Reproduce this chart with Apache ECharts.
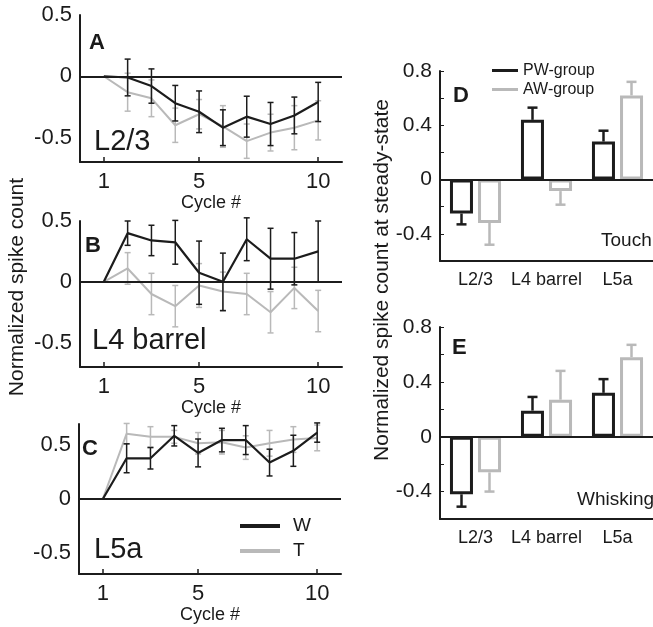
<!DOCTYPE html>
<html>
<head>
<meta charset="utf-8">
<script src="https://cdn.jsdelivr.net/npm/echarts@6/dist/echarts.min.js"></script>
<style>
  html, body { margin: 0; padding: 0; background: #fff; }
  #chart { width: 653px; height: 627px; }
</style>
</head>
<body>
<div id="chart"></div>
<script>
// cycles (x axis of panels A-C)
const cycles = [1, 2, 3, 4, 5, 6, 7, 8, 9, 10];
const cycleTicks = [1, 5, 10];
const lineTicks = [-0.5, 0, 0.5];

// A: L2/3
const aW = [0, -0.01, -0.08, -0.22, -0.29, -0.42, -0.33, -0.39, -0.32, -0.21];
const aWerr = [0, 0.15, 0.14, 0.145, 0.17, 0.146, 0.167, 0.176, 0.15, 0.16];
const aT = [0, -0.13, -0.18, -0.40, -0.31, -0.41, -0.53, -0.46, -0.42, -0.36];
const aTerr = [0, 0.155, 0.15, 0.14, 0.12, 0.17, 0.14, 0.15, 0.18, 0.16];

// B: L4 barrel
const bW = [0, 0.40, 0.34, 0.325, 0.075, 0, 0.35, 0.19, 0.19, 0.25];
const bWerr = [0, 0.1, 0.125, 0.18, 0.26, 0.236, 0.176, 0.25, 0.215, 0.25];
const bT = [0, 0.11, -0.10, -0.20, -0.03, -0.08, -0.10, -0.25, -0.05, -0.24];
const bTerr = [0, 0.13, 0.17, 0.17, 0.18, 0.16, 0.17, 0.17, 0.17, 0.17];

// C: L5a
const cW = [0, 0.38, 0.38, 0.59, 0.43, 0.55, 0.55, 0.34, 0.45, 0.62];
const cWerr = [0, 0.135, 0.10, 0.095, 0.13, 0.11, 0.135, 0.125, 0.145, 0.09];
const cT = [0, 0.61, 0.58, 0.58, 0.52, 0.53, 0.48, 0.52, 0.555, 0.57];
const cTerr = [0, 0.095, 0.095, 0.06, 0.1, 0.11, 0.11, 0.12, 0.12, 0.12];

// D / E: steady-state bars
const layers = ['L2/3', 'L4 barrel', 'L5a'];
const barLabelTicks = [-0.4, 0, 0.4, 0.8];
const barTicks = [-0.6, -0.4, -0.2, 0, 0.2, 0.4, 0.6, 0.8];
const touchPW = [-0.25, 0.44, 0.28];
const touchPWerr = [0.08, 0.09, 0.08];
const touchAW = [-0.32, -0.085, 0.62];
const touchAWerr = [0.16, 0.1, 0.1];
const whiskPW = [-0.42, 0.19, 0.32];
const whiskPWerr = [0.09, 0.1, 0.1];
const whiskAW = [-0.26, 0.27, 0.58];
const whiskAWerr = [0.14, 0.21, 0.09];

const BLACK = '#1c1c1c';
const GRAY = '#b9b9b9';
const FONT = '"Liberation Sans", Arial, sans-serif';

const zeroLine = {
  silent: true,
  symbol: 'none',
  label: { show: false },
  lineStyle: { color: BLACK, width: 1.8, type: 'solid' },
  data: [{ yAxis: 0 }]
};

// two-sided error bars for the cycle panels
function errBars(color, cap, width) {
  return function (params, api) {
    const x = api.value(0), y = api.value(1), e = api.value(2);
    if (!e) return null;
    const t = api.coord([x, y + e]);
    const b = api.coord([x, y - e]);
    const s = { stroke: color, lineWidth: width };
    return {
      type: 'group',
      children: [
        { type: 'line', shape: { x1: t[0], y1: t[1], x2: b[0], y2: b[1] }, style: s },
        { type: 'line', shape: { x1: t[0] - cap, y1: t[1], x2: t[0] + cap, y2: t[1] }, style: s },
        { type: 'line', shape: { x1: b[0] - cap, y1: b[1], x2: b[0] + cap, y2: b[1] }, style: s }
      ]
    };
  };
}

// one-sided error bars for the bar panels
function barErr(color, shift) {
  return function (params, api) {
    const i = api.value(0), v = api.value(1), e = api.value(2);
    const p = api.coord([i, v]);
    const q = api.coord([i, v + (v < 0 ? -e : e)]);
    const x = p[0] + shift;
    const s = { stroke: color, lineWidth: 2.5 };
    return {
      type: 'group',
      children: [
        { type: 'line', shape: { x1: x, y1: p[1], x2: x, y2: q[1] }, style: s },
        { type: 'line', shape: { x1: x - 5, y1: q[1], x2: x + 5, y2: q[1] }, style: s }
      ]
    };
  };
}

function zip(vals, errs) {
  return cycles.map((c, i) => [c, vals[i], errs[i]]);
}

function cycleSeries(idx, w, wErr, t, tErr) {
  return [
    { type: 'custom', xAxisIndex: idx, yAxisIndex: idx, renderItem: errBars(GRAY, 3, 1.5), data: zip(t, tErr), z: 2 },
    { type: 'line', name: 'T', xAxisIndex: idx, yAxisIndex: idx, data: cycles.map((c, i) => [c, t[i]]),
      symbol: 'none', lineStyle: { color: GRAY, width: 2 }, itemStyle: { color: GRAY }, z: 3 },
    { type: 'custom', xAxisIndex: idx, yAxisIndex: idx, renderItem: errBars(BLACK, 3, 1.5), data: zip(w, wErr), z: 4 },
    { type: 'line', name: 'W', xAxisIndex: idx, yAxisIndex: idx, data: cycles.map((c, i) => [c, w[i]]),
      symbol: 'none', lineStyle: { color: BLACK, width: 2.2 }, itemStyle: { color: BLACK }, z: 5, markLine: zeroLine }
  ];
}

function barSeries(idx, pw, pwErr, aw, awErr) {
  return [
    { type: 'custom', xAxisIndex: idx, yAxisIndex: idx, renderItem: barErr(BLACK, -14),
      data: pw.map((v, i) => [i, v, pwErr[i]]), z: 2 },
    { type: 'custom', xAxisIndex: idx, yAxisIndex: idx, renderItem: barErr(GRAY, 14),
      data: aw.map((v, i) => [i, v, awErr[i]]), z: 2 },
    { type: 'bar', name: 'PW-group', xAxisIndex: idx, yAxisIndex: idx, data: pw, barWidth: 23, barGap: '22%',
      itemStyle: { color: '#fff', borderColor: BLACK, borderWidth: 3 }, z: 3, markLine: zeroLine },
    { type: 'bar', name: 'AW-group', xAxisIndex: idx, yAxisIndex: idx, data: aw, barWidth: 23, barGap: '22%',
      itemStyle: { color: '#fff', borderColor: GRAY, borderWidth: 3 }, z: 3 }
  ];
}

const grids = [
  { left: 80, top: 15, width: 262, height: 147 },
  { left: 80, top: 221, width: 262, height: 146 },
  { left: 79, top: 424, width: 262, height: 150 },
  { left: 440, top: 71, width: 216, height: 190 },
  { left: 440, top: 327, width: 216, height: 192 }
];
const yRanges = [[-0.7, 0.5], [-0.7, 0.5], [-0.7, 0.7]];

const axisLine = { onZero: false, lineStyle: { color: BLACK, width: 2 } };

const xAxes = [0, 1, 2].map(i => ({
  type: 'value', gridIndex: i, min: 0, max: 11,
  axisLine: axisLine,
  splitLine: { show: false },
  axisTick: { inside: true, length: 5, customValues: cycleTicks, lineStyle: { color: BLACK, width: 1.5 } },
  axisLabel: { customValues: cycleTicks, margin: 9, color: '#1a1a1a', fontSize: 22, fontFamily: FONT },
  name: 'Cycle #', nameLocation: 'middle', nameGap: 31,
  nameTextStyle: { color: '#1a1a1a', fontSize: 18, fontFamily: FONT }
})).concat([3, 4].map(i => ({
  type: 'category', gridIndex: i, data: layers,
  axisLine: axisLine,
  axisTick: { inside: true, length: 5, alignWithLabel: true, lineStyle: { color: BLACK, width: 1.5 } },
  axisLabel: { interval: 0, margin: 10, color: '#1a1a1a', fontSize: 18, fontFamily: FONT }
})));

const yAxes = [0, 1, 2].map(i => ({
  type: 'value', gridIndex: i, min: yRanges[i][0], max: yRanges[i][1],
  axisLine: { show: true, onZero: false, lineStyle: { color: BLACK, width: 2 } },
  splitLine: { show: false },
  axisTick: { show: false },
  axisLabel: { customValues: lineTicks, margin: 8, color: '#1a1a1a', fontSize: 22, fontFamily: FONT }
})).concat([3, 4].map(i => ({
  type: 'value', gridIndex: i, min: -0.6, max: 0.8,
  axisLine: { show: true, onZero: false, lineStyle: { color: BLACK, width: 2 } },
  splitLine: { show: false },
  axisTick: { show: true, inside: true, length: 4, customValues: barTicks, lineStyle: { color: BLACK, width: 1 } },
  axisLabel: { customValues: barLabelTicks, margin: 8, color: '#1a1a1a', fontSize: 21, fontFamily: FONT }
})));

function txt(text, x, y, size, extra) {
  return Object.assign({
    type: 'text', x: x, y: y, z: 10,
    style: Object.assign({ text: text, fill: '#1a1a1a', font: size + 'px ' + FONT,
      textAlign: 'left', textVerticalAlign: 'middle' }, (extra && extra.style) || {})
  }, extra && extra.rotation !== undefined ? { rotation: extra.rotation } : {});
}

const bold = { style: { font: 'bold 22px ' + FONT } };

const chart = echarts.init(document.getElementById('chart'));
chart.setOption({
  animation: false,
  backgroundColor: '#fff',
  grid: grids,
  xAxis: xAxes,
  yAxis: yAxes,
  legend: [
    {
      orient: 'vertical', left: 240, top: 516, padding: 0, itemGap: 5,
      itemWidth: 40, itemHeight: 4, icon: 'rect',
      textStyle: { color: '#1a1a1a', fontSize: 19, lineHeight: 20, fontFamily: FONT, padding: [0, 0, 0, 8] },
      data: [
        { name: 'W', itemStyle: { color: BLACK } },
        { name: 'T', itemStyle: { color: GRAY } }
      ]
    },
    {
      orient: 'vertical', left: 492, top: 62, padding: 0, itemGap: 2,
      itemWidth: 26, itemHeight: 3, icon: 'rect',
      textStyle: { color: '#1a1a1a', fontSize: 16, lineHeight: 17, fontFamily: FONT },
      data: [
        { name: 'PW-group', itemStyle: { color: BLACK, borderWidth: 0 } },
        { name: 'AW-group', itemStyle: { color: GRAY, borderWidth: 0 } }
      ]
    }
  ],
  graphic: [
    txt('A', 89, 43, 22, bold),
    txt('B', 85, 246, 22, bold),
    txt('C', 82, 449, 22, bold),
    txt('D', 453, 96, 22, bold),
    txt('E', 452, 348, 22, bold),
    txt('L2/3', 94, 142, 29),
    txt('L4 barrel', 92, 341, 29),
    txt('L5a', 94, 550, 29),
    txt('Touch', 601, 241, 19),
    txt('Whisking', 577, 500, 19),
    txt('Normalized spike count', 17, 287, 21, { rotation: Math.PI / 2, style: { textAlign: 'center' } }),
    txt('Normalized spike count at steady-state', 382, 280, 21, { rotation: Math.PI / 2, style: { textAlign: 'center' } })
  ],
  series: [].concat(
    cycleSeries(0, aW, aWerr, aT, aTerr),
    cycleSeries(1, bW, bWerr, bT, bTerr),
    cycleSeries(2, cW, cWerr, cT, cTerr),
    barSeries(3, touchPW, touchPWerr, touchAW, touchAWerr),
    barSeries(4, whiskPW, whiskPWerr, whiskAW, whiskAWerr)
  )
});
window.addEventListener('resize', () => chart.resize());
</script>
</body>
</html>
